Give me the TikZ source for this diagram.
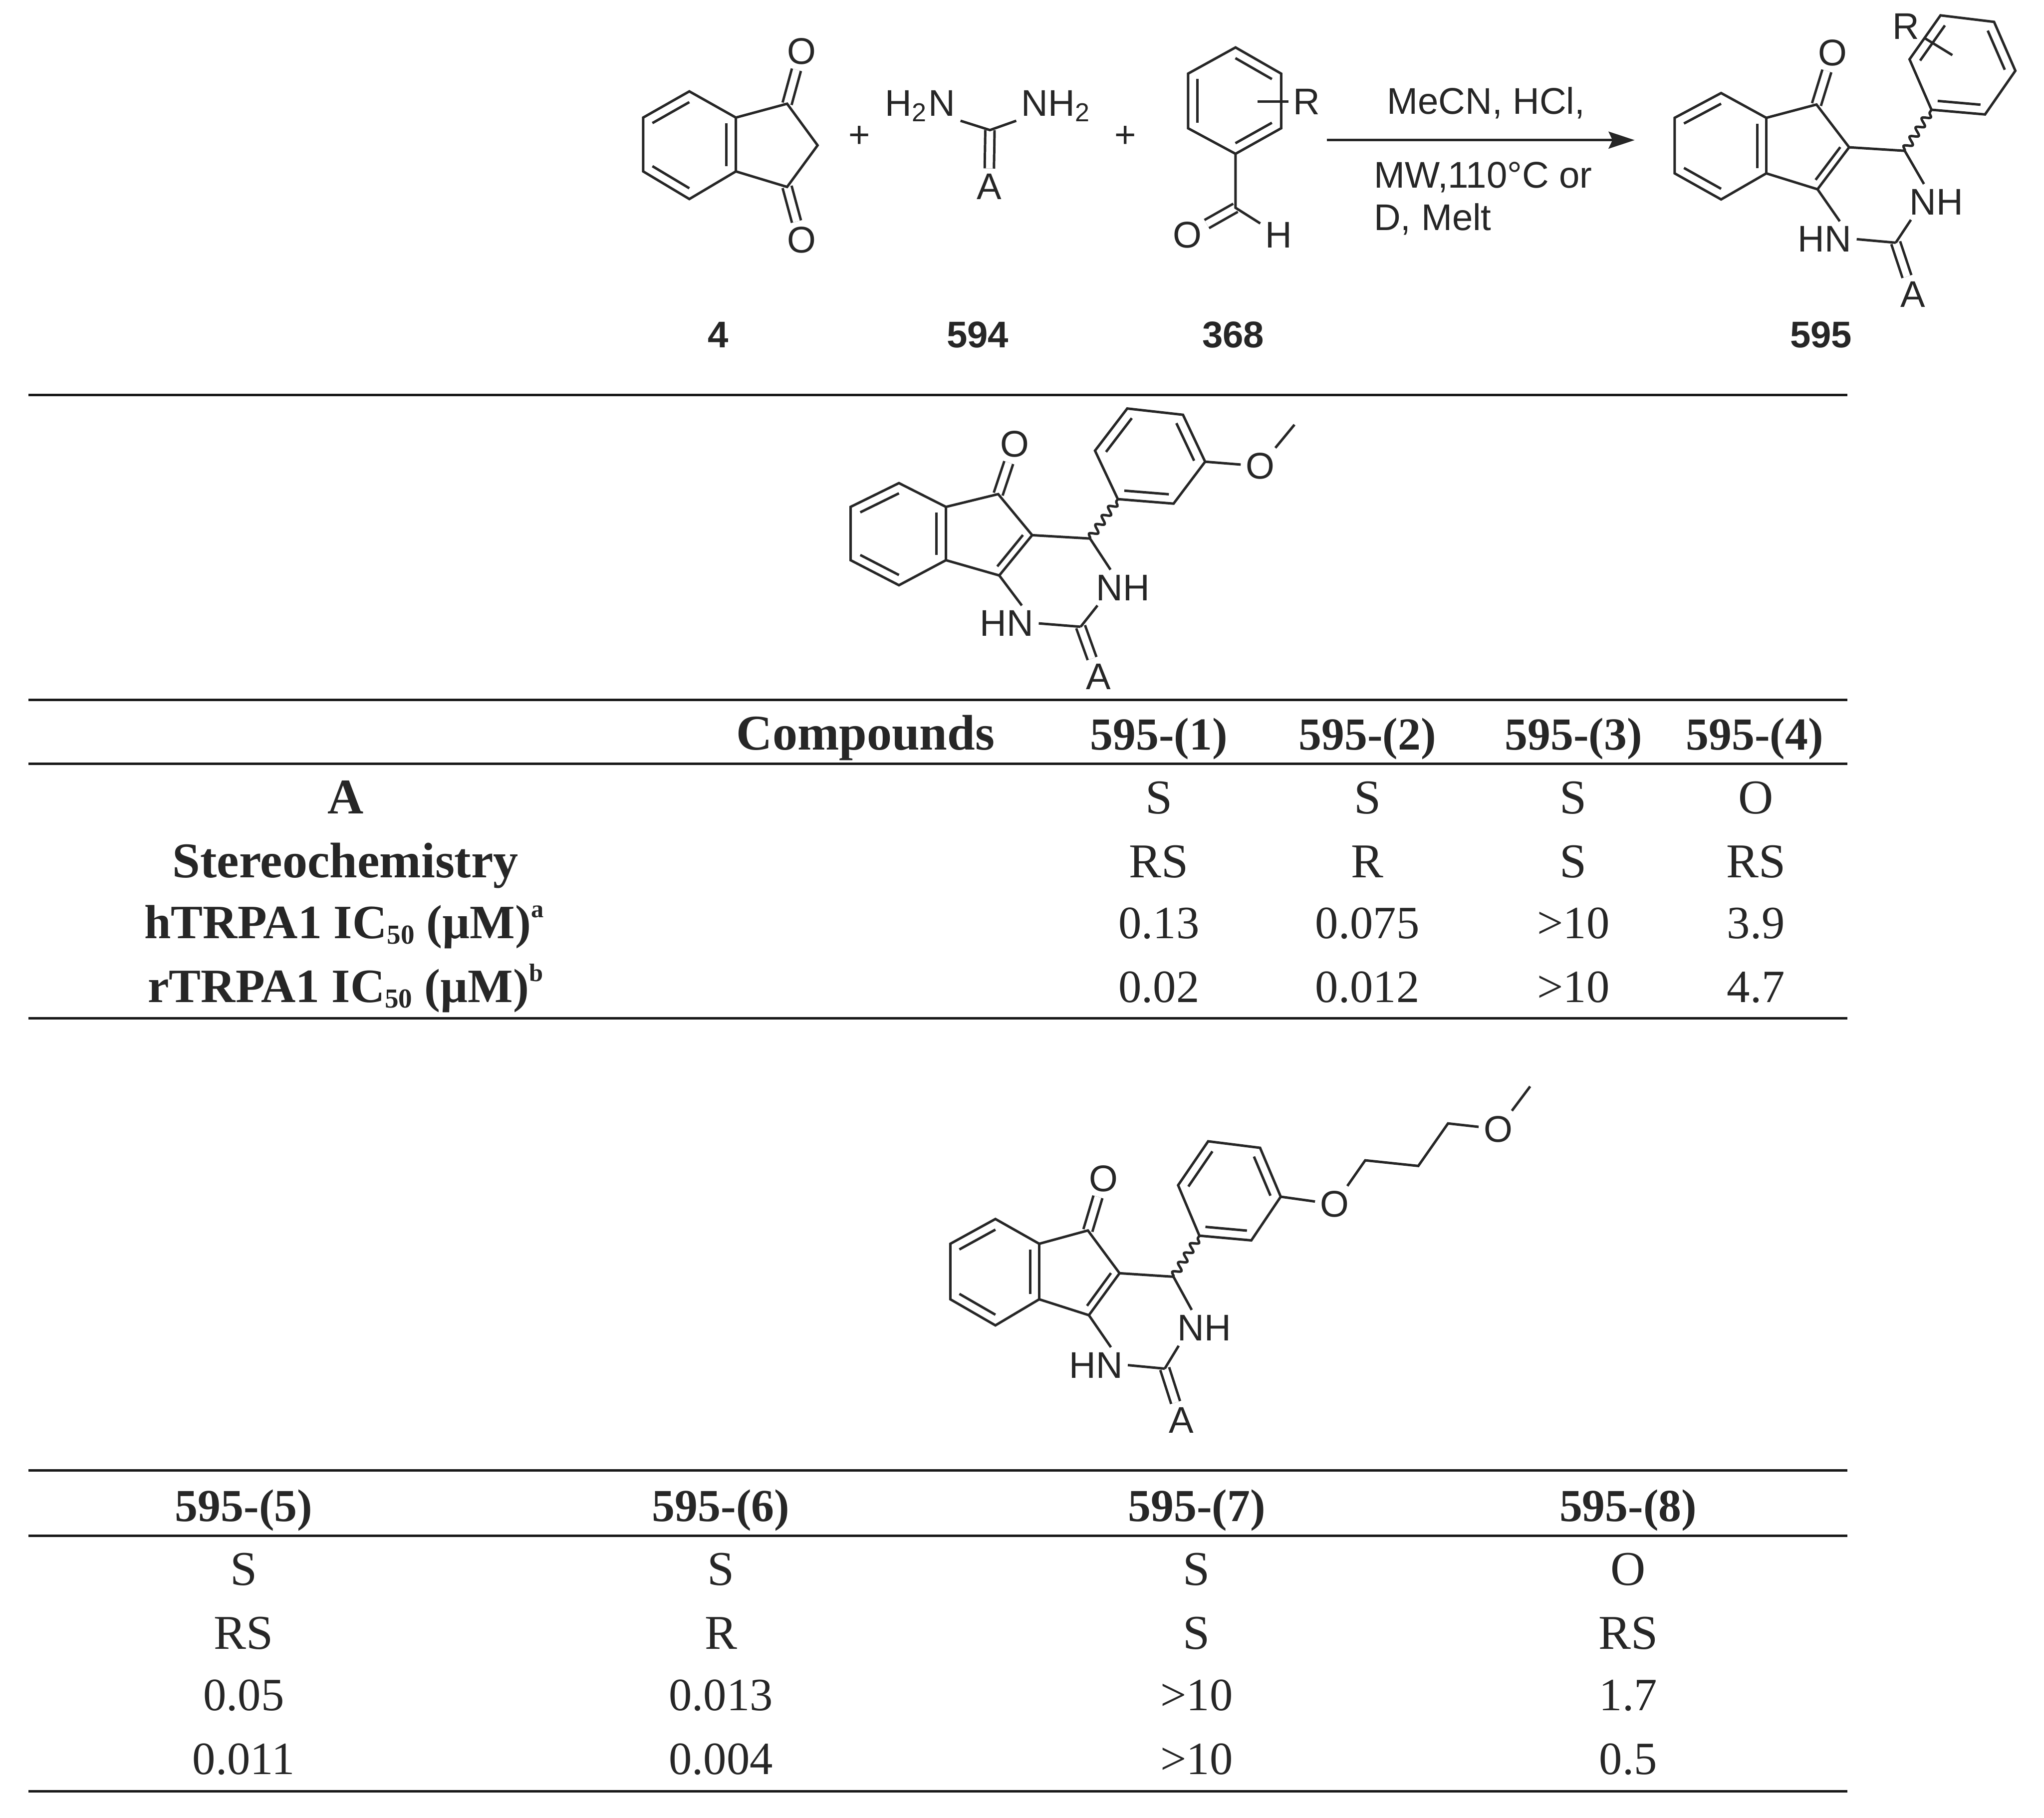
\documentclass[tikz,border=0pt]{standalone}
\usepackage{fontspec}
\setmainfont{Liberation Serif}
\setsansfont{Liberation Sans}
\usetikzlibrary{arrows.meta,calc,decorations.pathmorphing}
\newcommand{\lowtext}[1]{\raisebox{-.25ex}{\fontsize{6}{7}\selectfont #1}}
\newcommand{\hightext}[1]{\raisebox{.95ex}{\fontsize{5.5}{7}\selectfont #1}}

\begin{document}
\begin{tikzpicture}[x=.1mm, y=-.1mm, line width=.19mm, draw=black!85, text=black!85,
                    atom node/.style={font=\sffamily\fontsize{8.1}{10}\selectfont, inner sep=.3mm},
                    tag node/.style={font=\sffamily\bfseries\fontsize{8.1}{10}\selectfont, inner sep=0pt},
                    head node/.style={font=\bfseries\fontsize{10.9}{12}\selectfont, anchor=base, inner sep=0pt},
                    side node/.style={font=\bfseries\fontsize{10.45}{12}\selectfont, anchor=base, inner sep=0pt},
                    code node/.style={font=\bfseries\fontsize{10}{12}\selectfont, anchor=base, inner sep=0pt},
                    cell node/.style={font=\fontsize{10.6}{12}\selectfont, anchor=base, inner sep=0pt},
                    value node/.style={font=\fontsize{10.1}{12}\selectfont, anchor=base, inner sep=0pt},
                    table rule/.style={line width=.2mm, draw=black!90},
                    double bond/.style={double, double distance=.52mm},
                    wavy bond/.style={decorate, decoration={snake, amplitude=.28mm, segment length=.85mm}},
                    core ring/.pic={
                        \coordinate (-b1) at (0,0);
                        \coordinate (-b2) at (35,19);
                        \coordinate (-b3) at (35,61.6);
                        \coordinate (-b4) at (0,81.6);
                        \coordinate (-b5) at (-36,61.6);
                        \coordinate (-b6) at (-36,19);
                        \coordinate (-cb) at (0,40.8);
                        \coordinate (-co) at (73.9,8.8);
                        \coordinate (-c4) at (99.2,41.6);
                        \coordinate (-c9) at (74.7,73.8);
                        \coordinate (-cf) at (68,41);
                        \coordinate (-ch) at (142.3,44.3);
                        \coordinate (-c2) at (135.3,114.8);
                        \coordinate (-r1) at (163,12.8);
                        \coordinate (-r2) at (204.5,16.4);
                        \coordinate (-r3) at (228,-17.1);
                        \coordinate (-r4) at (211.5,-54.6);
                        \coordinate (-r5) at (170,-59.6);
                        \coordinate (-r6) at (146,-25.9);
                        \coordinate (-rc) at (187,-21);
                        \node[atom node] (-o) at (86.3,-31) {O};
                        \node[atom node] (-nh) at (166.9,83.5) {NH};
                        \node[atom node] (-hn) at (80.3,112.1) {HN};
                        \node[atom node] (-a) at (148.6,154.5) {A};
                        \draw[double bond] (-co) -- (-o);
                        \draw[double bond] (-c2) -- (-a);
                        \draw (-b1) -- (-b2) -- (-b3) -- (-b4) -- (-b5) -- (-b6) -- cycle;
                        \draw ($(-cb)!.8!(-b1)$) -- ($(-cb)!.8!(-b6)$);
                        \draw ($(-cb)!.8!(-b2)$) -- ($(-cb)!.8!(-b3)$);
                        \draw ($(-cb)!.8!(-b4)$) -- ($(-cb)!.8!(-b5)$);
                        \draw (-b2) -- (-co) -- (-c4) -- (-c9) -- (-b3);
                        \draw ($(-cf)!.78!(-c4)$) -- ($(-cf)!.78!(-c9)$);
                        \draw (-c4) -- (-ch);
                        \draw (-ch) -- (-nh.125);
                        \draw (-nh.215) -- (-c2);
                        \draw (-hn.east) -- (-c2);
                        \draw (-c9) -- (-hn.50);
                        \draw[wavy bond] (-ch) -- (-r1);
                        \draw (-r1) -- (-r2) -- (-r3) -- (-r4) -- (-r5) -- (-r6) -- cycle;
                        \draw ($(-rc)!.8!(-r1)$) -- ($(-rc)!.8!(-r2)$);
                        \draw ($(-rc)!.8!(-r3)$) -- ($(-rc)!.8!(-r4)$);
                        \draw ($(-rc)!.8!(-r5)$) -- ($(-rc)!.8!(-r6)$);
                    }]
    \useasboundingbox (0,0) rectangle (1568,1394.6);

    \coordinate (d1) at (528.8,70.1);
    \coordinate (d2) at (564.5,90.2);
    \coordinate (d3) at (564.5,131.5);
    \coordinate (d4) at (528.8,152.7);
    \coordinate (d5) at (493.4,131.5);
    \coordinate (d6) at (493.4,90.2);
    \coordinate (dc) at (528.8,111.4);
    \coordinate (dk1) at (603.8,79.6);
    \coordinate (dm) at (627.2,111.5);
    \coordinate (dk2) at (603.8,143.4);
    \node[atom node] (do1) at (614.8,39.5) {O};
    \node[atom node] (do2) at (614.8,184) {O};
    \draw[double bond] (dk1) -- (do1);
    \draw[double bond] (dk2) -- (do2);
    \draw (d1) -- (d2) -- (d3) -- (d4) -- (d5) -- (d6) -- cycle;
    \draw ($(dc)!.8!(d1)$) -- ($(dc)!.8!(d6)$);
    \draw ($(dc)!.8!(d2)$) -- ($(dc)!.8!(d3)$);
    \draw ($(dc)!.8!(d4)$) -- ($(dc)!.8!(d5)$);
    \draw (d2) -- (dk1) -- (dm) -- (dk2) -- (d3);

    \node[atom node] (plus1) at (659.2,105) {+};
    \node[atom node] (h2n) at (705.9,81.4) {H\textsubscript{2}N};
    \node[atom node] (nh2) at (810.5,81.4) {NH\textsubscript{2}};
    \node[atom node] (ua) at (758.7,143) {A};
    \coordinate (uc) at (759.4,99.8);
    \draw[double bond] (uc) -- (ua);
    \draw (h2n.-20) -- (uc) -- (nh2.200);

    \node[atom node] (plus2) at (863.3,105) {+};
    \coordinate (a1) at (947.8,36.4);
    \coordinate (a2) at (982.8,56.5);
    \coordinate (a3) at (982.8,98.4);
    \coordinate (a4) at (947.8,118);
    \coordinate (a5) at (911.4,98.4);
    \coordinate (a6) at (911.4,56.5);
    \coordinate (ac) at (947.3,77.4);
    \coordinate (af) at (947.8,159.4);
    \coordinate (aq) at (964.6,78);
    \node[atom node] (ar) at (1002.5,78) {R};
    \node[atom node] (ao) at (910.7,180.4) {O};
    \node[atom node] (ah) at (981,180.4) {H};
    \draw[double bond] (af) -- (ao);
    \draw (a1) -- (a2) -- (a3) -- (a4) -- (a5) -- (a6) -- cycle;
    \draw ($(ac)!.8!(a1)$) -- ($(ac)!.8!(a2)$);
    \draw ($(ac)!.8!(a3)$) -- ($(ac)!.8!(a4)$);
    \draw ($(ac)!.8!(a5)$) -- ($(ac)!.8!(a6)$);
    \draw (a4) -- (af) -- (ah);
    \draw (ar) -- (aq);

    \coordinate (arrow tail) at (1018,107.5);
    \coordinate (arrow head) at (1254,107.5);
    \draw[-{Stealth[length=2mm,width=1.3mm,inset=.3mm]}] (arrow tail) -- (arrow head);
    \node[atom node] (cond1) at (1140,79) {MeCN, HCl,};
    \node[atom node, anchor=west] (cond2) at (1050,136) {MW,110°C or};
    \node[atom node, anchor=west] (cond3) at (1050,168) {D, Melt};

    \pic (s1) [xscale=.99] at (1320.3,71.4) {core ring};
    \node[atom node] (s1r) at (1462,20.4) {R};
    \coordinate (s1q) at (1497.7,42.3);
    \draw (s1r) -- (s1q);

    \node[tag node] (n4) at (551,257) {4};
    \node[tag node] (n594) at (750,257) {594};
    \node[tag node] (n368) at (946,257) {368};
    \node[tag node] (n595) at (1397,257) {595};

    \coordinate (l1) at (22,303);
    \coordinate (m1) at (1417,303);
    \draw[table rule] (l1) -- (m1);

    \pic (s2) [xscale=1.03, yscale=.96] at (689.6,370.6) {core ring};
    \node[atom node] (s2o) at (966.8,357.6) {O};
    \coordinate (s2m) at (993,325.8);
    \draw (s2-r3) -- (s2o) -- (s2m);

    \coordinate (l2) at (22,537);
    \coordinate (m2) at (1417,537);
    \coordinate (l3) at (22,586);
    \coordinate (m3) at (1417,586);
    \coordinate (l4) at (22,781);
    \coordinate (m4) at (1417,781);
    \draw[table rule] (l2) -- (m2);
    \draw[table rule] (l3) -- (m3);
    \draw[table rule] (l4) -- (m4);

    \node[head node] (t1h0) at (664,575) {Compounds};
    \node[code node] (t1h1) at (889,575) {595-(1)};
    \node[code node] (t1h2) at (1049,575) {595-(2)};
    \node[code node] (t1h3) at (1207,575) {595-(3)};
    \node[code node] (t1h4) at (1346,575) {595-(4)};
    \node[head node] (t1a0) at (265,624) {A};
    \node[cell node] (t1a1) at (889,624) {S};
    \node[cell node] (t1a2) at (1049,624) {S};
    \node[cell node] (t1a3) at (1207,624) {S};
    \node[cell node] (t1a4) at (1347,624) {O};
    \node[head node] (t1s0) at (265,673) {Stereochemistry};
    \node[cell node] (t1s1) at (889,673) {RS};
    \node[cell node] (t1s2) at (1049,673) {R};
    \node[cell node] (t1s3) at (1207,673) {S};
    \node[cell node] (t1s4) at (1347,673) {RS};
    \node[side node] (t1u0) at (264,720) {hTRPA1 IC\lowtext{50} (µM)\hightext{a}};
    \node[value node] (t1u1) at (889,720) {0.13};
    \node[value node] (t1u2) at (1049,720) {0.075};
    \node[value node] (t1u3) at (1207,720) {>10};
    \node[value node] (t1u4) at (1347,720) {3.9};
    \node[side node] (t1v0) at (265,769) {rTRPA1 IC\lowtext{50} (µM)\hightext{b}};
    \node[value node] (t1v1) at (889,769) {0.02};
    \node[value node] (t1v2) at (1049,769) {0.012};
    \node[value node] (t1v3) at (1207,769) {>10};
    \node[value node] (t1v4) at (1347,769) {4.7};

    \pic (s3) [xscale=.96] at (763.6,935.1) {core ring};
    \node[atom node] (s3o1) at (1023.8,923.8) {O};
    \coordinate (s3a) at (1047.3,890.1);
    \coordinate (s3b) at (1088,894.4);
    \coordinate (s3c) at (1110.8,861.8);
    \node[atom node] (s3o2) at (1149.3,866.1) {O};
    \coordinate (s3m) at (1173.8,833.4);
    \draw (s3-r3) -- (s3o1) -- (s3a) -- (s3b) -- (s3c) -- (s3o2) -- (s3m);

    \coordinate (l5) at (22,1128);
    \coordinate (m5) at (1417,1128);
    \coordinate (l6) at (22,1178);
    \coordinate (m6) at (1417,1178);
    \coordinate (l7) at (22,1374);
    \coordinate (m7) at (1417,1374);
    \draw[table rule] (l5) -- (m5);
    \draw[table rule] (l6) -- (m6);
    \draw[table rule] (l7) -- (m7);

    \node[code node] (t2h1) at (187,1167) {595-(5)};
    \node[code node] (t2h2) at (553,1167) {595-(6)};
    \node[code node] (t2h3) at (918,1167) {595-(7)};
    \node[code node] (t2h4) at (1249,1167) {595-(8)};
    \node[cell node] (t2a1) at (187,1216) {S};
    \node[cell node] (t2a2) at (553,1216) {S};
    \node[cell node] (t2a3) at (918,1216) {S};
    \node[cell node] (t2a4) at (1249,1216) {O};
    \node[cell node] (t2s1) at (187,1265) {RS};
    \node[cell node] (t2s2) at (553,1265) {R};
    \node[cell node] (t2s3) at (918,1265) {S};
    \node[cell node] (t2s4) at (1249,1265) {RS};
    \node[value node] (t2u1) at (187,1312) {0.05};
    \node[value node] (t2u2) at (553,1312) {0.013};
    \node[value node] (t2u3) at (918,1312) {>10};
    \node[value node] (t2u4) at (1249,1312) {1.7};
    \node[value node] (t2v1) at (187,1361) {0.011};
    \node[value node] (t2v2) at (553,1361) {0.004};
    \node[value node] (t2v3) at (918,1361) {>10};
    \node[value node] (t2v4) at (1249,1361) {0.5};
\end{tikzpicture}
\end{document}
